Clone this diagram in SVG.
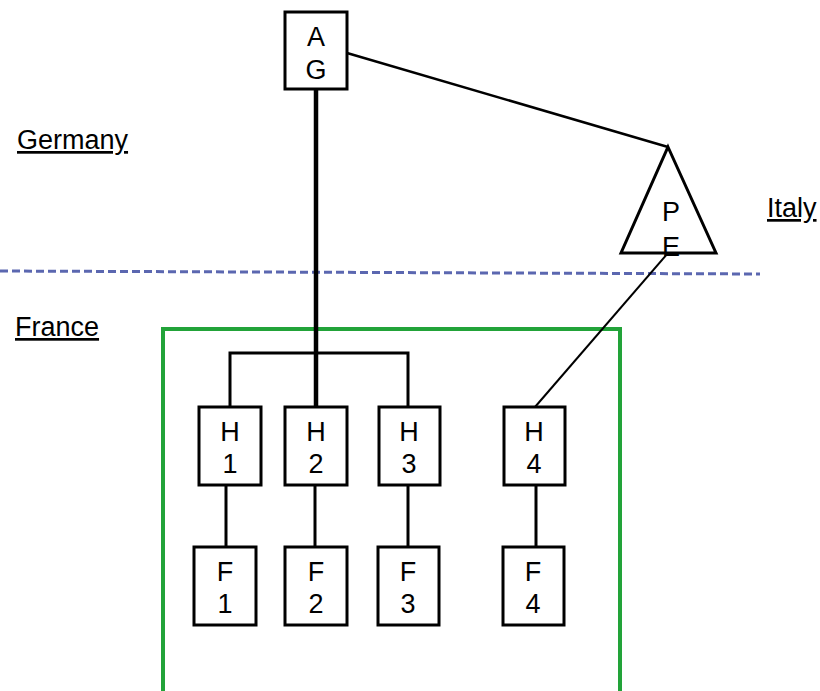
<svg xmlns="http://www.w3.org/2000/svg" width="820" height="691" viewBox="0 0 820 691">
<style>
.box{fill:#fff;stroke:#000;stroke-width:3}
.t{font-family:"Liberation Sans",Arial,sans-serif;font-size:27px;fill:#000;text-anchor:middle}
.lbl{font-family:"Liberation Sans",Arial,sans-serif;font-size:27px;fill:#000;text-decoration:underline}
.c{stroke:#000;stroke-width:3;fill:none}
</style>
<rect width="820" height="691" fill="#fff"/>
<text class="lbl" x="17" y="149">Germany</text>
<text class="lbl" x="767" y="217">Italy</text>
<text class="lbl" x="15" y="336">France</text>
<line x1="0" y1="271" x2="760" y2="274" stroke="#5b67b0" stroke-width="3" stroke-dasharray="8 4"/>
<rect id="france" x="163" y="329" width="457" height="380" fill="none" stroke="#22a339" stroke-width="4"/>
<g id="connectors">
<line class="c" x1="316" y1="89" x2="316" y2="407" style="stroke-width:4.5"/>
<line class="c" x1="347" y1="53" x2="668" y2="147" style="stroke-width:2.5"/>
<line class="c" x1="668" y1="253" x2="535" y2="407" style="stroke-width:2"/>
<polyline class="c" points="230,407 230,353 408,353 408,407"/>
<line class="c" x1="226" y1="485" x2="226" y2="547"/>
<line class="c" x1="315" y1="485" x2="315" y2="547"/>
<line class="c" x1="408" y1="485" x2="408" y2="547"/>
<line class="c" x1="536" y1="485" x2="536" y2="547"/>
</g>
<g id="AG"><rect class="box" x="285" y="12" width="62" height="77"/><text class="t" x="316" y="46">A</text><text class="t" x="316" y="79">G</text></g>
<g id="PE"><polygon points="668,147 716,253 621,253" fill="none" stroke="#000" stroke-width="3" stroke-linejoin="miter"/><text class="t" x="671" y="221">P</text><text class="t" x="671" y="256">E</text></g>
<g id="H1"><rect class="box" x="199" y="407" width="62" height="78"/><text class="t" x="230" y="441">H</text><text class="t" x="230" y="473">1</text></g>
<g id="H2"><rect class="box" x="285" y="407" width="62" height="78"/><text class="t" x="316" y="441">H</text><text class="t" x="316" y="473">2</text></g>
<g id="H3"><rect class="box" x="379" y="407" width="61" height="78"/><text class="t" x="409" y="441">H</text><text class="t" x="409" y="473">3</text></g>
<g id="H4"><rect class="box" x="504" y="407" width="61" height="78"/><text class="t" x="534" y="441">H</text><text class="t" x="534" y="473">4</text></g>
<g id="F1"><rect class="box" x="194" y="547" width="62" height="78"/><text class="t" x="225" y="581">F</text><text class="t" x="225" y="613">1</text></g>
<g id="F2"><rect class="box" x="285" y="547" width="62" height="78"/><text class="t" x="316" y="581">F</text><text class="t" x="316" y="613">2</text></g>
<g id="F3"><rect class="box" x="378" y="547" width="61" height="78"/><text class="t" x="408" y="581">F</text><text class="t" x="408" y="613">3</text></g>
<g id="F4"><rect class="box" x="503" y="547" width="61" height="78"/><text class="t" x="533" y="581">F</text><text class="t" x="533" y="613">4</text></g>
</svg>
